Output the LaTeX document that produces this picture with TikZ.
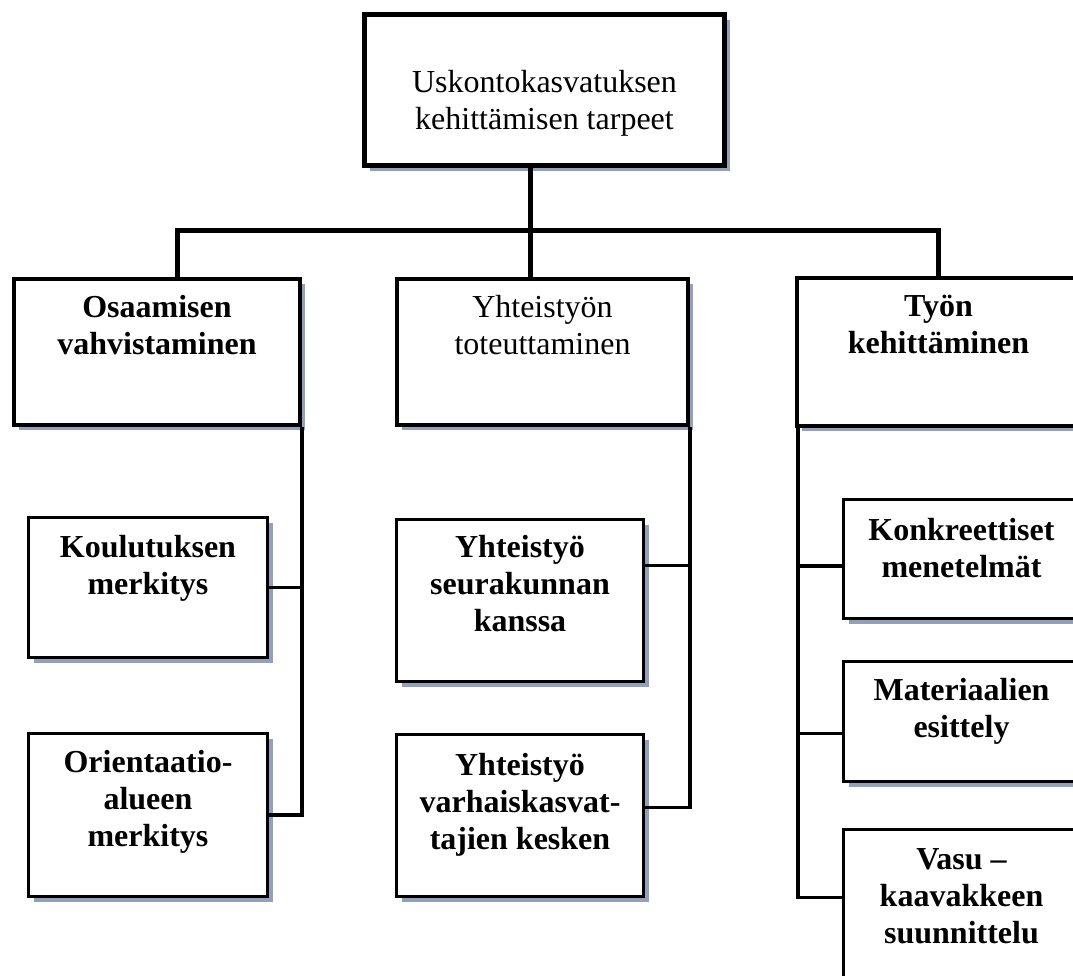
\documentclass[tikz,border=0pt]{standalone}
\usepackage{fontspec}
\setmainfont{Liberation Serif}
\usepackage{xcolor}
\usetikzlibrary{positioning,calc,shadows}
\definecolor{shadowcol}{RGB}{146,160,186}
\tikzset{
  box/.style={draw, fill=white, inner sep=0pt, anchor=north west,
    drop shadow={shadow xshift=5pt, shadow yshift=-5pt, fill=shadowcol, opacity=1}},
  lbl/.style={align=center, inner sep=0pt, anchor=north,
    font=\fontsize{32}{37}\selectfont},
  blbl/.style={lbl, font=\fontsize{32}{37}\selectfont\bfseries},
  bus/.style={draw, line width=5pt},
  link/.style={draw, line width=3.5pt}
}

\begin{document}
\begin{tikzpicture}[x=1pt, y=-1pt]
  \useasboundingbox (0,0) rectangle (1073,975);
  %% top
  \node [box, line width=5pt, minimum width=360pt, minimum height=151pt] (top) at (362,12) {};
  %% second row
  \node [box, line width=4pt, minimum width=286pt, minimum height=146pt] (osaa) at (12,277) {};
  \node [box, line width=4pt, minimum width=291pt, minimum height=146pt] (yht) at (395,277) {};
  \node [box, line width=4pt, minimum width=283pt, minimum height=148pt] (tyo) at (795,276) {};
  %% third row
  \node [box, line width=3pt, minimum width=239pt, minimum height=140pt] (koul) at (27,516) {};
  \node [box, line width=3pt, minimum width=239pt, minimum height=163pt] (ori) at (27,732) {};
  \node [box, line width=3pt, minimum width=247pt, minimum height=162pt] (seur) at (395,518) {};
  \node [box, line width=3pt, minimum width=247pt, minimum height=162pt] (varh) at (395,733) {};
  \node [box, line width=3pt, minimum width=236pt, minimum height=119pt] (konk) at (842,498) {};
  \node [box, line width=3pt, minimum width=236pt, minimum height=120pt] (mat) at (842,660) {};
  \node [box, line width=3pt, minimum width=236pt, minimum height=162pt] (vasu) at (842,828) {};
  %% texts
  \node [lbl, below=58pt of top.north] (top_t) {Uskontokasvatuksen\\kehittämisen tarpeet};
  \node [blbl, below=18pt of osaa.north] (osaa_t) {Osaamisen\\vahvistaminen};
  \node [lbl, below=18pt of yht.north] (yht_t) {Yhteistyön\\toteuttaminen};
  \node [blbl, below=19pt of tyo.north] (tyo_t) {Työn\\kehittäminen};
  \node [blbl, below=19pt of koul.north] (koul_t) {Koulutuksen\\merkitys};
  \node [blbl, below=18pt of ori.north] (ori_t) {Orientaatio-\\alueen\\merkitys};
  \node [blbl, below=17pt of seur.north] (seur_t) {Yhteistyö\\seurakunnan\\kanssa};
  \node [blbl, below=20pt of varh.north] (varh_t) {Yhteistyö\\varhaiskasvat-\\tajien kesken};
  \node [blbl, below=20pt of konk.north] (konk_t) {Konkreettiset\\menetelmät};
  \node [blbl, below=18pt of mat.north] (mat_t) {Materiaalien\\esittely};
  \node [blbl, below=20pt of vasu.north] (vasu_t) {Vasu --\\kaavakkeen\\suunnittelu};
  %% Lines
  \coordinate (busM) at (530,230);
  \coordinate (busL) at (177,230);
  \coordinate (busR) at (938,230);
  \path [bus] (top.south -| busM) -- (busM) -- (yht.north -| busM);
  \path [bus] (osaa.north -| busL) -- (busL) -- (busR) -- (tyo.north -| busR);
  %%
  \path [link] (osaa.south east) |- (ori.east);
  \path [link] (koul.east) -- (koul.east -| osaa.south east);
  \path [link] (yht.south east) |- ([yshift=8pt]varh.east);
  \path [link] ([yshift=35pt]seur.east) -- ([yshift=35pt]seur.east -| yht.south east);
  \path [link] ([xshift=3pt]tyo.south west) |- ([yshift=13pt]vasu.west);
  \path [link] ([yshift=-7pt]konk.west) -- ([yshift=-7pt,xshift=3pt]konk.west -| tyo.south west);
  \path [link] ([yshift=-12pt]mat.west) -- ([yshift=-12pt,xshift=3pt]mat.west -| tyo.south west);
\end{tikzpicture}
\end{document}
